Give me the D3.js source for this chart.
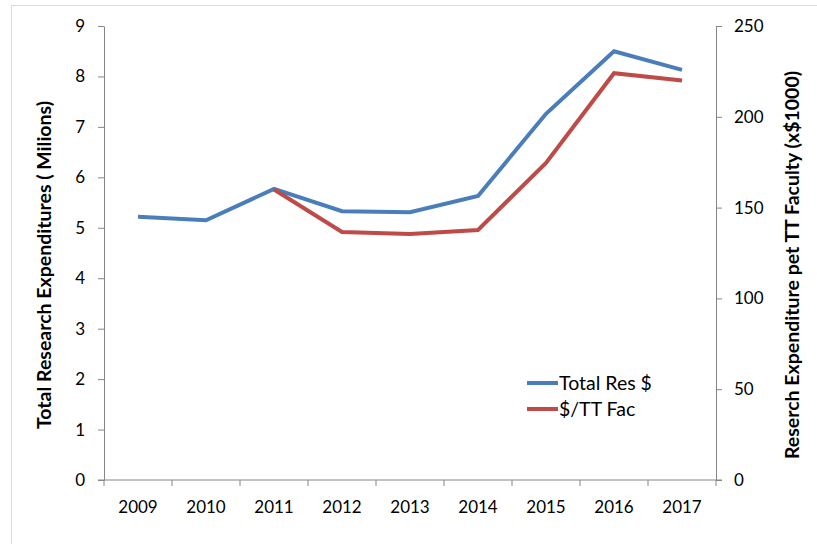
<!DOCTYPE html>
<html>
<head>
<meta charset="utf-8">
<script src="https://cdn.jsdelivr.net/npm/d3@7"></script>
<style>
  body { margin: 0; background: #fff; }
  text { font-family: Lato, "Open Sans", sans-serif; fill: #000; }
</style>
</head>
<body>
<svg id="chart" width="817" height="544"></svg>
<script>
// data
let years = ["2009", "2010", "2011", "2012", "2013", "2014", "2015", "2016", "2017"];
let totalRes = [5.22, 5.15, 5.77, 5.33, 5.31, 5.63, 7.26, 8.5, 8.13];       // millions
let perFaculty = [null, null, 160, 136.6, 135.5, 137.7, 174.6, 224, 220];   // x$1000
let leftTicks = [0, 1, 2, 3, 4, 5, 6, 7, 8, 9];
let rightTicks = [0, 50, 100, 150, 200, 250];

let svg = d3.select("#chart");
let margin = { top: 26, left: 104, right: 101, bottom: 64 };
let width = 817 - margin.left - margin.right;
let height = 544 - margin.top - margin.bottom;

// outer chart border
svg.append("rect")
  .attr("x", 11.5).attr("y", 5.5)
  .attr("width", 830).attr("height", 560)
  .attr("fill", "none").attr("stroke", "#d9d9d9");

let g = svg.append("g").attr("transform", `translate(${margin.left},${margin.top})`);

let x = d3.scaleBand().domain(years).range([0, width]);
let yL = d3.scaleLinear().domain([0, 9]).range([height, 0]);
let yR = d3.scaleLinear().domain([0, 250]).range([height, 0]);

let axisColor = "#868686";

// left axis
let left = g.append("g")
  .call(d3.axisLeft(yL).tickValues(leftTicks).tickSize(6).tickPadding(13).tickSizeOuter(0));
// right axis
let right = g.append("g")
  .attr("transform", `translate(${width},0)`)
  .call(d3.axisRight(yR).tickValues(rightTicks).tickSize(6).tickPadding(12).tickSizeOuter(0));
// bottom axis: ticks at category boundaries
let bottom = g.append("g")
  .attr("transform", `translate(0,${height})`)
  .call(d3.axisBottom(x).tickSize(0).tickPadding(27));
bottom.selectAll(".boundary")
  .data(d3.range(years.length + 1))
  .enter().append("line")
  .attr("x1", i => i * x.step()).attr("x2", i => i * x.step())
  .attr("y1", 0).attr("y2", 6)
  .attr("stroke", axisColor);

[left, right, bottom].forEach(a => {
  a.select(".domain").attr("stroke", axisColor);
  a.selectAll(".tick line").attr("stroke", axisColor);
  a.selectAll("text").style("font-size", "17px").attr("fill", "#000");
});
bottom.selectAll(".tick text").attr("dy", "0.35em");
bottom.select(".domain").attr("d", `M-6,0H${width + 6}`);

// lines
let cx = d => x(d) + x.bandwidth() / 2;
let blueLine = d3.line()
  .x((d, i) => cx(years[i]))
  .y(d => yL(d));
let redLine = d3.line()
  .defined(d => d !== null)
  .x((d, i) => cx(years[i]))
  .y(d => yR(d));

g.append("path").datum(totalRes)
  .attr("d", blueLine)
  .attr("fill", "none").attr("stroke", "#4a7ebb").attr("stroke-width", 4);
g.append("path").datum(perFaculty)
  .attr("d", redLine)
  .attr("fill", "none").attr("stroke", "#be4b48").attr("stroke-width", 4);

// axis titles
svg.append("text")
  .attr("transform", "translate(51,265) rotate(-90)")
  .attr("text-anchor", "middle")
  .style("font-size", "19.5px").style("font-weight", "bold")
  .text("Total Research Expenditures ( Milions)");
svg.append("text")
  .attr("transform", "translate(799,265) rotate(-90)")
  .attr("text-anchor", "middle")
  .style("font-size", "19.5px").style("font-weight", "bold")
  .text("Reserch Expenditure pet TT Faculty (x$1000)");

// legend
let legendItems = [
  { label: "Total Res $", color: "#4a7ebb" },
  { label: "$/TT Fac", color: "#be4b48" }
];
let legend = svg.append("g").attr("transform", "translate(527,383)");
legend.selectAll("line")
  .data(legendItems)
  .enter().append("line")
  .attr("x1", 0).attr("x2", 31)
  .attr("y1", (d, i) => i * 26).attr("y2", (d, i) => i * 26)
  .attr("stroke", d => d.color).attr("stroke-width", 4);
legend.selectAll("text")
  .data(legendItems)
  .enter().append("text")
  .attr("x", 32).attr("y", (d, i) => i * 26)
  .attr("dy", "0.35em")
  .style("font-size", "19.5px")
  .text(d => d.label);
</script>
</body>
</html>
